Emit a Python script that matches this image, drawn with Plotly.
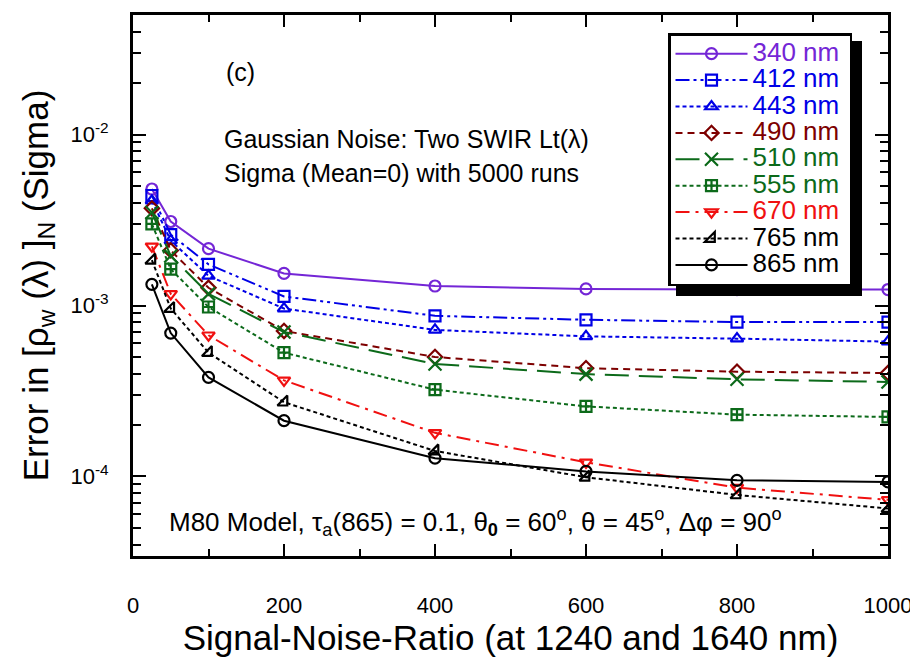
import plotly.graph_objects as go

# ---------------- data ----------------
snr = [25, 50, 100, 200, 400, 600, 800, 1000]

err_340 = [4.8e-3, 3.1e-3, 2.15e-3, 1.54e-3, 1.30e-3, 1.25e-3, 1.24e-3, 1.24e-3]
err_412 = [4.4e-3, 2.6e-3, 1.74e-3, 1.13e-3, 8.7e-4, 8.25e-4, 8.0e-4, 8.0e-4]
err_443 = [4.1e-3, 2.4e-3, 1.49e-3, 9.6e-4, 7.2e-4, 6.6e-4, 6.4e-4, 6.15e-4]
err_490 = [3.7e-3, 2.1e-3, 1.27e-3, 7.1e-4, 5.0e-4, 4.3e-4, 4.1e-4, 4.03e-4]
err_510 = [3.5e-3, 1.95e-3, 1.17e-3, 7.0e-4, 4.55e-4, 3.97e-4, 3.7e-4, 3.57e-4]
err_555 = [3.0e-3, 1.63e-3, 9.8e-4, 5.3e-4, 3.22e-4, 2.57e-4, 2.3e-4, 2.23e-4]
err_670 = [2.22e-3, 1.17e-3, 6.7e-4, 3.65e-4, 1.8e-4, 1.21e-4, 8.6e-5, 7.3e-5]
err_765 = [1.84e-3, 9.6e-4, 5.3e-4, 2.72e-4, 1.41e-4, 9.9e-5, 7.8e-5, 6.5e-5]
err_865 = [1.33e-3, 6.9e-4, 3.8e-4, 2.12e-4, 1.28e-4, 1.07e-4, 9.5e-5, 9.3e-5]

band_labels = ["340 nm", "412 nm", "443 nm", "490 nm", "510 nm",
               "555 nm", "670 nm", "765 nm", "865 nm"]
band_errors = [err_340, err_412, err_443, err_490, err_510,
               err_555, err_670, err_765, err_865]

x_tick_vals = [0, 200, 400, 600, 800, 1000]
y_tick_vals = [1e-4, 1e-3, 1e-2]
y_tick_text = ["10<sup>-4</sup>", "10<sup>-3</sup>", "10<sup>-2</sup>"]

# ---------------- styles ----------------
PURPLE = "#7426d6"
BLUE = "#0000e6"
DRED = "#7d0000"
GREEN = "#0c6a1a"
RED = "#f01010"
BLACK = "#000000"

styles = [
    dict(color=PURPLE, dash="solid", symbol="circle-open"),
    dict(color=BLUE, dash="14px,4px,3px,4px,3px,4px", symbol="square-open"),
    dict(color=BLUE, dash="4px,3px", symbol="triangle-up-open"),
    dict(color=DRED, dash="7px,5px", symbol="diamond-open"),
    dict(color=GREEN, dash="24px,10px", symbol="x-thin-open"),
    dict(color=GREEN, dash="4px,3px", symbol="square-cross-open"),
    dict(color=RED, dash="14px,6px,3px,6px", symbol="triangle-down-open"),
    dict(color=BLACK, dash="4px,3px", symbol="triangle-se-open"),
    dict(color=BLACK, dash="solid", symbol="circle-open"),
]

FONT = "Liberation Sans, Arial, Helvetica, sans-serif"

# The page body has an 8px margin, so the figure is drawn 8px in from the corner.
PAGE_OFF = 8
# plot-area geometry in screen pixels
L, R, T, B = 133, 888, 15, 556
W, H = 918 - PAGE_OFF, 666 - PAGE_OFF


def px(xp):
    return (xp - L) / (R - L)


def py(yp):
    return 1 - (yp - T) / (B - T)


fig = go.Figure()
for name, errs, st in zip(band_labels, band_errors, styles):
    fig.add_trace(go.Scatter(
        x=snr, y=errs, mode="lines+markers",
        name=f'<span style="color:{st["color"]};font-size:26px">{name}</span>&nbsp;',
        line=dict(color=st["color"], width=2, dash=st["dash"]),
        marker=dict(symbol=st["symbol"], size=11 if "x-thin" not in st["symbol"] else 13,
                    color=st["color"], line=dict(color=st["color"], width=2.2)),
    ))

minor_vals = []
for e in [1e-5, 1e-4, 1e-3, 1e-2]:
    for m in range(2, 10):
        minor_vals.append(m * e)

fig.update_layout(
    width=W, height=H,
    margin=dict(l=L - PAGE_OFF, r=918 - R, t=T - PAGE_OFF, b=666 - B, autoexpand=False),
    paper_bgcolor="white", plot_bgcolor="white",
    font=dict(family=FONT, color="black", size=22),
    showlegend=True,
    legend=dict(
        x=px(668), y=py(33), xanchor="left", yanchor="top",
        bgcolor="white", bordercolor="black", borderwidth=2.5,
        font=dict(family=FONT, size=18, color="black"),
        itemwidth=72, itemsizing="trace", tracegroupgap=0,
    ),
    xaxis=dict(
        range=[0, 1000], tickvals=x_tick_vals, automargin=False,
        showline=True, linecolor="black", linewidth=3, mirror="allticks",
        ticks="inside", ticklen=12, tickwidth=2, tickcolor="black",
        minor=dict(dtick=100, ticks="inside", ticklen=7, tickwidth=2, tickcolor="black"),
        showgrid=False, zeroline=False,
        tickfont=dict(size=22), ticklabelstandoff=28,
        title=dict(text="Signal-Noise-Ratio (at 1240 and 1640 nm)",
                   font=dict(size=35), standoff=8),
    ),
    yaxis=dict(
        type="log", range=[-4.465, -1.301], automargin=False,
        tickvals=y_tick_vals, ticktext=y_tick_text,
        showline=True, linecolor="black", linewidth=3, mirror="allticks",
        ticks="inside", ticklen=13, tickwidth=2, tickcolor="black",
        minor=dict(tickvals=minor_vals, ticks="inside", ticklen=8, tickwidth=2, tickcolor="black"),
        showgrid=False, zeroline=False,
        tickfont=dict(size=22), ticklabelstandoff=17,
        title=dict(text="Error in [ρ<sub>w</sub> (λ) ]<sub>N</sub> (Sigma)",
                   font=dict(size=35), standoff=12),
    ),
)

# legend drop shadow
fig.add_shape(type="rect", xref="paper", yref="paper",
              x0=px(676), x1=px(862), y0=py(296), y1=py(41),
              fillcolor="black", line=dict(width=0), layer="above")

ann_font = dict(family=FONT, size=25, color="black")
fig.add_annotation(xref="paper", yref="paper", x=px(224), y=py(72),
                   xanchor="left", yanchor="middle", showarrow=False,
                   text="(c)", font=dict(family=FONT, size=25, color="black"))
fig.add_annotation(xref="paper", yref="paper", x=px(222), y=py(139),
                   xanchor="left", yanchor="middle", showarrow=False,
                   text="Gaussian Noise: Two SWIR Lt(λ)", font=ann_font)
fig.add_annotation(xref="paper", yref="paper", x=px(222), y=py(173),
                   xanchor="left", yanchor="middle", showarrow=False,
                   text="Sigma (Mean=0) with 5000 runs", font=ann_font)
fig.add_annotation(xref="paper", yref="paper", x=px(167), y=py(522),
                   xanchor="left", yanchor="middle", showarrow=False,
                   text="M80 Model, τ<sub>a</sub>(865) = 0.1, θ<sub><b>0</b></sub> = 60<sup>o</sup>, "
                        "θ = 45<sup>o</sup>, Δφ = 90<sup>o</sup>",
                   font=dict(family=FONT, size=26, color="black"))

fig.write_html("out.html")
